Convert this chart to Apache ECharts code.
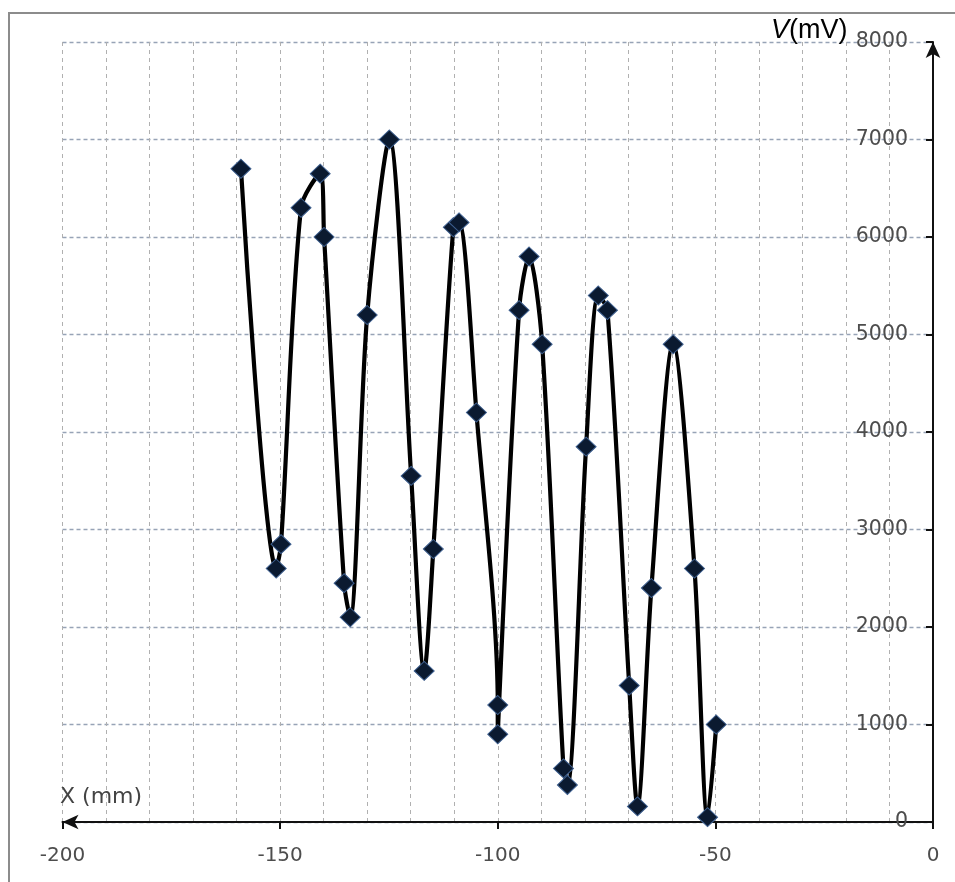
<!DOCTYPE html>
<html>
<head>
<meta charset="utf-8">
<script src="https://cdn.jsdelivr.net/npm/echarts@6/dist/echarts.min.js"></script>
<style>
  html, body { margin: 0; padding: 0; background: #fff; }
  #chart { width: 955px; height: 882px; }
</style>
</head>
<body>
<div id="chart"></div>
<script>
// Position X (mm) and voltage V (mV)
var xValues = [-159, -150.9, -149.8, -145.2, -140.8, -139.9, -135.3, -133.9, -130, -124.9,
               -119.9, -116.9, -114.8, -110.2, -108.9, -104.9, -100, -100, -95.1, -92.8,
               -89.8, -84.9, -84, -79.7, -76.9, -74.8, -69.8, -67.9, -64.7, -59.7,
               -54.8, -51.8, -49.8];
var vValues = [6700, 2600, 2850, 6300, 6650, 6000, 2450, 2100, 5200, 7000,
               3550, 1550, 2800, 6100, 6150, 4200, 1200, 900, 5250, 5800,
               4900, 550, 380, 3850, 5400, 5250, 1400, 160, 2400, 4900,
               2600, 50, 1000];
var xTickLabels = [-200, -150, -100, -50, 0];
var yTickLabels = [0, 1000, 2000, 3000, 4000, 5000, 6000, 7000, 8000];

var points = xValues.map(function (x, i) { return [x, vValues[i]]; });

var chart = echarts.init(document.getElementById('chart'), null, { renderer: 'canvas' });
var labelFont = 'DejaVu Sans';

chart.setOption({
  backgroundColor: '#ffffff',
  animation: false,
  grid: { left: 62.5, right: 22, top: 42, bottom: 60, containLabel: false },
  xAxis: {
    type: 'value',
    min: xTickLabels[0],
    max: xTickLabels[xTickLabels.length - 1],
    interval: 50,
    axisLine: {
      show: true, onZero: true,
      lineStyle: { color: '#111', width: 2 },
      symbol: ['arrow', 'none'],
      symbolSize: [11, 16]
    },
    axisTick: { show: true, length: 7, lineStyle: { color: '#111', width: 2 } },
    axisLabel: {
      color: '#4d4d4d', fontFamily: labelFont, fontSize: 20, margin: 24,
      formatter: function (v) { return xTickLabels.indexOf(v) >= 0 ? String(v) : ''; }
    },
    splitLine: { show: true, lineStyle: { color: '#b0b0b0', type: [4, 4], width: 1 } },
    minorTick: { show: false, splitNumber: 5 },
    minorSplitLine: { show: true, lineStyle: { color: '#b0b0b0', type: [4, 4], width: 1 } }
  },
  yAxis: {
    type: 'value',
    position: 'right',
    min: yTickLabels[0],
    max: yTickLabels[yTickLabels.length - 1],
    interval: 1000,
    axisLine: {
      show: true, onZero: false,
      lineStyle: { color: '#111', width: 2 },
      symbol: ['none', 'arrow'],
      symbolSize: [11, 16]
    },
    axisTick: { show: true, inside: true, length: 7, lineStyle: { color: '#111', width: 2 } },
    axisLabel: {
      inside: true, color: '#4d4d4d', fontFamily: labelFont, fontSize: 20.5, margin: 25,
      formatter: function (v) { return yTickLabels.indexOf(v) >= 0 ? String(v) : ''; }
    },
    splitLine: { show: true, lineStyle: { color: '#97a3b6', type: [4, 3], width: 1.3 } }
  },
  series: [{
    type: 'line',
    data: points,
    smooth: 0.3,
    symbol: 'diamond',
    symbolSize: [20, 19],
    lineStyle: { color: '#000', width: 4.2 },
    itemStyle: { color: '#0b1a30', borderColor: '#3d5f8f', borderWidth: 1 },
    z: 5
  }],
  graphic: [
    {
      type: 'rect', silent: true, z: -10,
      shape: { x: 9, y: 13, width: 960, height: 900 },
      style: { fill: 'none', stroke: '#8c8c8c', lineWidth: 2 }
    },
    {
      type: 'text', left: 771, top: 17, z: 10,
      style: {
        text: '{i|V}{n|(mV)}',
        rich: {
          i: { fontFamily: 'Liberation Sans', fontStyle: 'italic', fontSize: 27, fill: '#000' },
          n: { fontFamily: 'Liberation Sans', fontSize: 27, fill: '#000' }
        }
      }
    },
    {
      type: 'text', left: 60, top: 786, z: 10,
      style: { text: 'X (mm)', fontFamily: labelFont, fontSize: 22, fill: '#444' }
    }
  ]
});
</script>
</body>
</html>
